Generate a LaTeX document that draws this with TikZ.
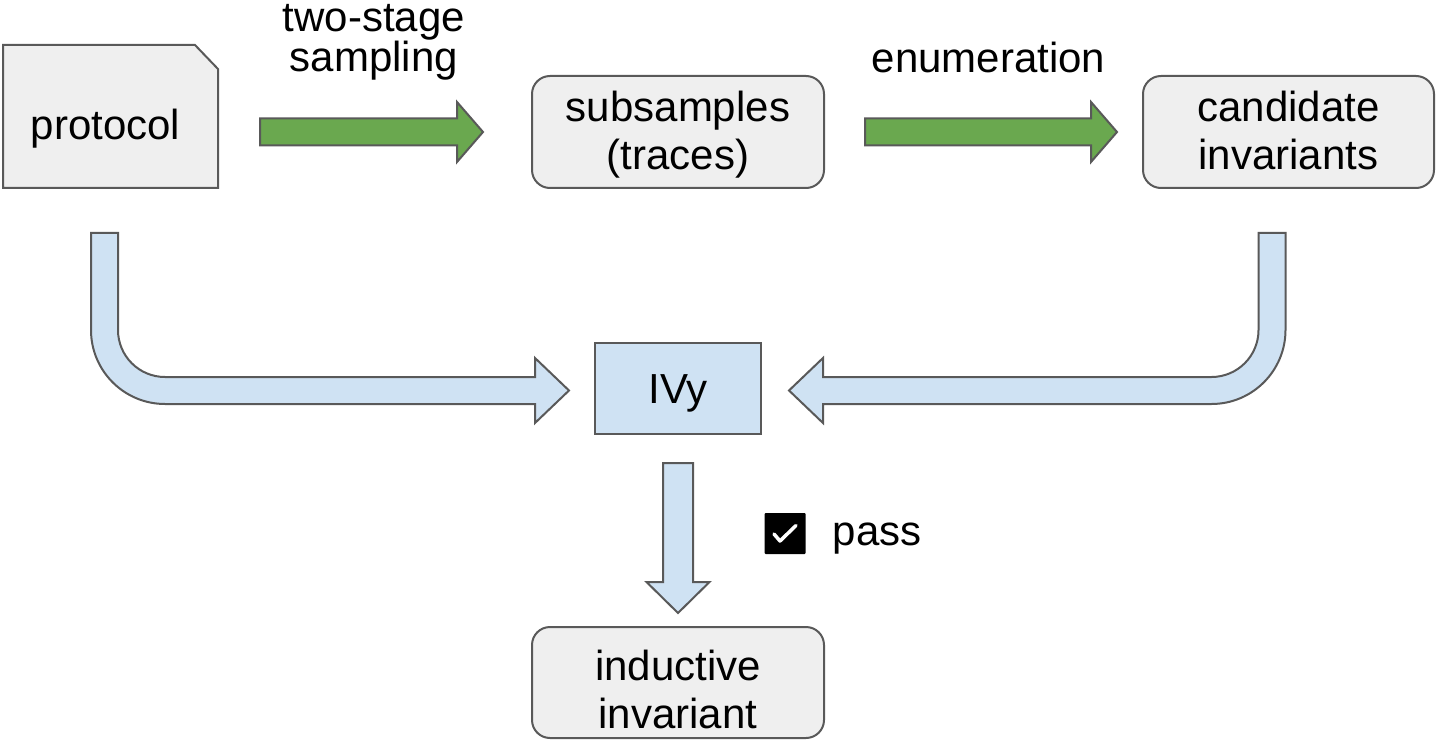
\documentclass[tikz,border=0pt]{standalone}
\usepackage{fontspec}
\setmainfont{Liberation Sans}
\usetikzlibrary{calc}

\definecolor{boxfill}{HTML}{EFEFEF}
\definecolor{edgegray}{HTML}{595959}
\definecolor{arrowgreen}{HTML}{6AA84F}
\definecolor{ivyblue}{HTML}{CFE2F3}

% two centred lines, baseline at the first one
\newcommand\twolines[2]{\parbox[t]{320pt}{\centering #1\\#2}}

% horizontal block arrow: style, tail, tip
\newcommand\hblock[3]{%
  \draw[#1] let \p1=(#2), \p2=(#3), \n1={sign(\x2-\x1)} in
    (\x1,\y2+13.5) -- (\x2-\n1*26,\y2+13.5) -- (\x2-\n1*26,\y2+30) -- (\x2,\y2)
    -- (\x2-\n1*26,\y2-30) -- (\x2-\n1*26,\y2-13.5) -- (\x1,\y2-13.5) -- cycle;}

% vertical block arrow: style, tail, tip
\newcommand\vblock[3]{%
  \draw[#1] let \p1=(#2), \p2=(#3), \n1={sign(\y2-\y1)} in
    (\x2-15,\y1) -- (\x2-15,\y2-\n1*31) -- (\x2-31.5,\y2-\n1*31) -- (\x2,\y2)
    -- (\x2+31.5,\y2-\n1*31) -- (\x2+15,\y2-\n1*31) -- (\x2+15,\y1) -- cycle;}

% block arrow going down, then bending sideways to the tip
\newcommand\bentblock[3]{%
  \draw[#1] let \p1=(#2), \p2=(#3), \n1={sign(\x2-\x1)} in
    (\x1-\n1*13.5,\y1) -- (\x1-\n1*13.5,\y2+60.5)
    .. controls (\x1-\n1*13.5,\y2+19.63) and (\x1+\n1*19.63,\y2-13.5) .. (\x1+\n1*60.5,\y2-13.5)
    -- (\x2-\n1*34,\y2-13.5) -- (\x2-\n1*34,\y2-32.5) -- (\x2,\y2)
    -- (\x2-\n1*34,\y2+32.5) -- (\x2-\n1*34,\y2+13.5) -- (\x1+\n1*60.5,\y2+13.5)
    .. controls (\x1+\n1*34.54,\y2+13.5) and (\x1+\n1*13.5,\y2+34.54) .. (\x1+\n1*13.5,\y2+60.5)
    -- (\x1+\n1*13.5,\y1) -- cycle;}

\begin{document}
\begin{tikzpicture}[x=1pt,y=-1pt,
  outline/.style={draw=edgegray, line width=2pt, inner sep=0pt, outer sep=0pt},
  graybox/.style={outline, fill=boxfill, rounded corners=18pt,
    minimum width=292pt, minimum height=112pt},
  docframe/.style={inner sep=0pt, outer sep=0pt, minimum width=215pt, minimum height=143pt},
  docoutline/.style={draw=edgegray, line width=2pt, fill=boxfill},
  toolbox/.style={outline, fill=ivyblue, minimum width=166pt, minimum height=91pt},
  txt/.style={inner sep=0pt, outer sep=0pt, anchor=base,
    font=\fontsize{42}{48}\selectfont},
  greenarrow/.style={draw=edgegray, line width=2pt, fill=arrowgreen},
  bluearrow/.style={draw=edgegray, line width=2pt, fill=ivyblue},
]
\useasboundingbox (0,0) rectangle (1437,743);

% document box with a clipped top-right corner
\node[docframe] (protocol) at (110.5,116.5) {};
\draw[docoutline] (protocol.north west) -- ($(protocol.north east)+(-23,0)$)
  -- ($(protocol.north east)+(0,24)$) -- (protocol.south east)
  -- (protocol.south west) -- cycle;

% other boxes
\node[graybox] (subsamples) at (678,132) {};
\node[graybox, minimum width=291pt] (candidate) at (1288.5,132) {};
\node[toolbox] (ivy)        at (678,388.5) {};
\node[graybox, minimum height=111pt] (inductive) at (678,682.5) {};

% box texts
\node[txt] (protocol-text)   at ($(protocol.center)+(-5,23.5)$) {protocol};
\node[txt] (subsamples-text) at ($(subsamples.center)+(0,-10)$) {\twolines{subsamples}{(traces)}};
\node[txt] (candidate-text)  at ($(candidate.center)+(0,-10)$) {\twolines{candidate}{invariants}};
\node[txt] (ivy-text)        at ($(ivy.center)+(0,14.5)$) {IVy};
\node[txt] (inductive-text)  at ($(inductive.center)+(0,-2.5)$) {\twolines{inductive}{invariant}};

% sampling and enumeration steps
\hblock{greenarrow}{$(protocol.east)+(42,0)$}{$(subsamples.west)+(-49,0)$}
\hblock{greenarrow}{$(subsamples.east)+(41,0)$}{$(candidate.west)+(-26,0)$}
\node[txt, font=\fontsize{42}{40}\selectfont] (sampling-label) at (374,32)
  {\twolines{two-stage}{sampling}};
\node[txt] (enumeration-label) at (988.5,73) {enumeration};

% inputs to IVy
\bentblock{bluearrow}{$(protocol.south)+(-6,45)$}{$(ivy.west)+(-26,2)$}
\bentblock{bluearrow}{$(candidate.south)+(-16.5,45)$}{$(ivy.east)+(28,2)$}

% result
\vblock{bluearrow}{$(ivy.south)+(0,29)$}{$(inductive.north)+(0,-14)$}
\node[fill=black, minimum size=41pt, inner sep=0pt, rounded corners=1pt] (checkbox) at (785,533.5) {};
\draw[white, line width=3.5pt, line join=round, line cap=round]
  ($(checkbox.center)+(-11,0.5)$) -- ($(checkbox.center)+(-5,7.5)$) -- ($(checkbox.center)+(11,-8)$);
\node[txt, anchor=base west] (pass-label) at ($(checkbox.east)+(27,11.5)$) {pass};
\end{tikzpicture}
\end{document}
